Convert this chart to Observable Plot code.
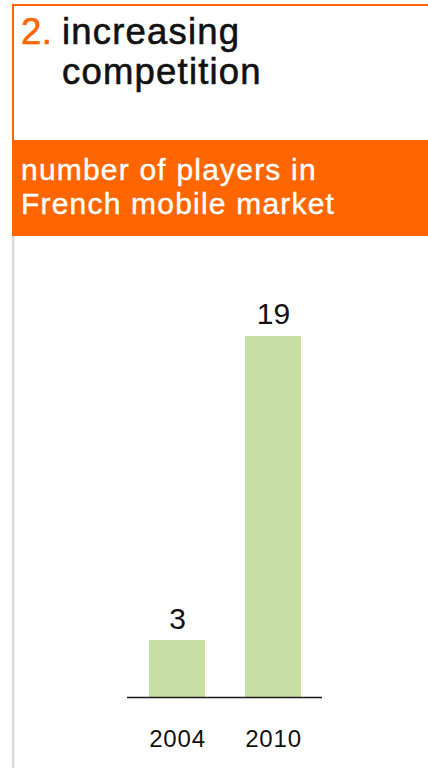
<!DOCTYPE html>
<html>
<head>
<meta charset="utf-8">
<script src="https://cdn.jsdelivr.net/npm/d3@7"></script>
<script src="https://cdn.jsdelivr.net/npm/@observablehq/plot@0.6"></script>
<style>
  html, body { margin: 0; padding: 0; background: #ffffff; }
  body { width: 428px; height: 768px; position: relative; overflow: hidden; font-family: "Liberation Sans", Arial, Helvetica, sans-serif; }
  .frame { position: absolute; left: 12px; top: 4px; width: 416px; height: 136px; border-top: 2px solid #ff6600; border-left: 2px solid #ff6600; box-sizing: border-box; }
  .title { position: absolute; left: 21px; top: 12px; font-size: 36.5px; line-height: 40px; letter-spacing: 1.2px; color: #111; display: flex; -webkit-text-stroke: 0.6px #111; }
  .title .num { color: #ff6600; -webkit-text-stroke: 0.6px #ff6600; width: 41px; letter-spacing: 0.5px; }
  .band { position: absolute; left: 12px; top: 140px; width: 416px; height: 96px; background: #ff6600; }
  .subtitle { position: absolute; left: 21px; top: 153px; font-size: 30px; line-height: 34px; letter-spacing: 1.2px; color: #fff; -webkit-text-stroke: 0.4px #fff; }
  .side { position: absolute; left: 12px; top: 236px; width: 2px; height: 532px; background: #d9d9d9; border-right: 1px solid #efefef; }
  #chart { position: absolute; left: 0; top: 237px; }
  #chart svg text { -webkit-text-stroke: 0.3px #111; }
  #chart svg g[aria-label="x-axis tick label"] text { letter-spacing: 0.8px; }
</style>
</head>
<body>
<div class="frame"></div>
<div class="title"><span class="num">2.</span><span>increasing<br>competition</span></div>
<div class="band"></div>
<div class="subtitle">number of players in<br>French mobile market</div>
<div class="side"></div>
<div id="chart"></div>
<script>
const years = ["2004", "2010"];
const players = [3, 19];

const data = years.map((year, i) => ({year, players: players[i]}));

const chart = Plot.plot({
  width: 428,
  height: 531,
  marginLeft: 127,
  marginRight: 106,
  marginTop: 99,
  marginBottom: 71,
  style: {fontFamily: "Liberation Sans, Arial, sans-serif", background: "transparent", overflow: "visible", color: "#111"},
  x: {domain: years, paddingInner: 0.42, paddingOuter: 0.22, label: null},
  y: {domain: [0, 19], axis: null},
  marks: [
    Plot.barY(data, {x: "year", y: "players", fill: "#c8e0a5"}),
    Plot.ruleY([0], {stroke: "#1a1a1a", strokeWidth: 1.6}),
    Plot.text(data.filter(d => d.year === "2004"), {x: "year", y: "players", text: d => String(d.players), lineAnchor: "bottom", dy: -12, fontSize: 30, fill: "#111"}),
    Plot.text(data.filter(d => d.year === "2010"), {x: "year", y: "players", text: d => String(d.players), lineAnchor: "bottom", dy: -13, fontSize: 30, fill: "#111"}),
    Plot.axisX({tickSize: 0, tickPadding: 32, fontSize: 24, fill: "#111", label: null})
  ]
});
document.getElementById("chart").appendChild(chart);
</script>
</body>
</html>
